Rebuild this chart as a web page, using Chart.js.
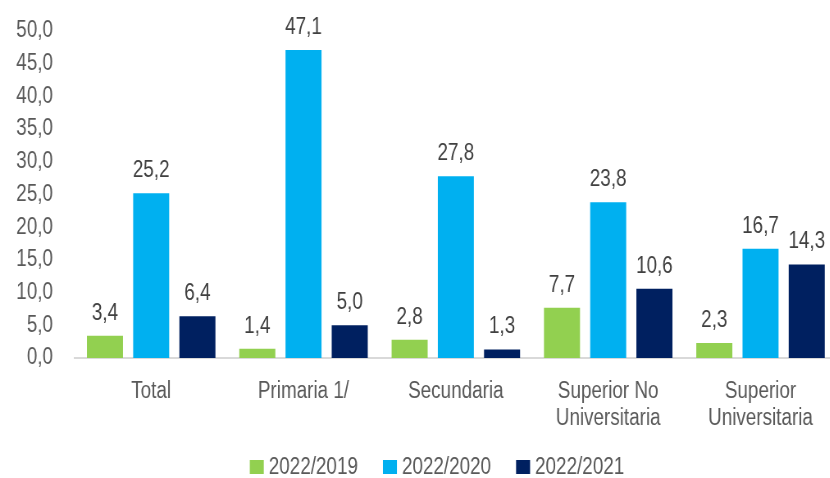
<!DOCTYPE html>
<html>
<head>
<meta charset="utf-8">
<script src="https://cdn.jsdelivr.net/npm/chart.js@4"></script>
<style>
html,body{margin:0;padding:0;background:#fff;overflow:hidden;width:830px;height:478px;}
#wrap{width:1024px;height:478px;position:relative;transform:scaleX(0.82);transform-origin:0 0;}
</style>
</head>
<body>
<div id="wrap"><canvas id="c" width="1024" height="478"></canvas></div>
<script>
const categories = [['Total'], ['Primaria 1/'], ['Secundaria'], ['Superior No','Universitaria'], ['Superior','Universitaria']];
const seriesNames = ['2022/2019', '2022/2020', '2022/2021'];
const v2019 = [3.4, 1.4, 2.8, 7.7, 2.3];
const v2020 = [25.2, 47.1, 27.8, 23.8, 16.7];
const v2021 = [6.4, 5.0, 1.3, 10.6, 14.3];
const colors = ['#92D050', '#00B0F0', '#002060'];
const yTicks = [0,5,10,15,20,25,30,35,40,45,50];

const SX = 0.82; // horizontal condensing of the whole figure
const FONT = '"Liberation Sans", Arial, sans-serif';
const FS = 23;
const PLOT_TOP = 31;
const fmt = v => v.toFixed(1).replace('.', ',');

const areaPlugin = {
  id: 'plotTop',
  afterLayout(chart) {
    const y = chart.scales.y;
    chart.chartArea.top = PLOT_TOP;
    chart.chartArea.height = chart.chartArea.bottom - PLOT_TOP;
    y.top = PLOT_TOP;
    y.height = y.bottom - PLOT_TOP;
    y.configure();
    y._labelItems = null;
  }
};

const labelPlugin = {
  id: 'barLabels',
  afterDatasetsDraw(chart) {
    const ctx = chart.ctx;
    ctx.save();
    ctx.font = FS + 'px ' + FONT;
    ctx.fillStyle = '#404040';
    ctx.textAlign = 'center';
    ctx.textBaseline = 'alphabetic';
    chart.data.datasets.forEach((ds, i) => {
      const meta = chart.getDatasetMeta(i);
      meta.data.forEach((bar, j) => {
        ctx.fillText(fmt(ds.data[j]), bar.x, bar.y - 16);
      });
    });
    ctx.restore();
  }
};

const legendPlugin = {
  id: 'customLegend',
  afterDraw(chart) {
    const ctx = chart.ctx;
    ctx.save();
    ctx.font = FS + 'px ' + FONT;
    ctx.textBaseline = 'middle';
    ctx.textAlign = 'left';
    const boxW = 14 / SX, boxH = 14, gap = 5 / SX, between = 25 / SX;
    const items = chart.data.datasets.map(ds => ({ text: ds.label, color: ds.backgroundColor, w: ctx.measureText(ds.label).width }));
    const total = items.reduce((a, it) => a + boxW + gap + it.w, 0) + between * (items.length - 1);
    let x = 437 / SX - total / 2;
    const cy = 467;
    items.forEach(it => {
      ctx.fillStyle = it.color;
      ctx.fillRect(x, cy - boxH / 2, boxW, boxH);
      ctx.fillStyle = '#595959';
      ctx.fillText(it.text, x + boxW + gap, cy + 1);
      x += boxW + gap + it.w + between;
    });
    ctx.restore();
  }
};

new Chart(document.getElementById('c'), {
  type: 'bar',
  data: {
    labels: categories,
    datasets: [
      { label: seriesNames[0], data: v2019, backgroundColor: colors[0] },
      { label: seriesNames[1], data: v2020, backgroundColor: colors[1] },
      { label: seriesNames[2], data: v2021, backgroundColor: colors[2] }
    ]
  },
  options: {
    responsive: false,
    animation: false,
    devicePixelRatio: 1,
    layout: { padding: { top: 23, right: 3 / SX, left: 0, bottom: 50 } },
    datasets: { bar: { categoryPercentage: 0.91, barPercentage: 0.78 } },
    plugins: {
      legend: { display: false },
      tooltip: { enabled: false }
    },
    scales: {
      x: {
        afterFit(s) { s.height = 70; },
        grid: { display: false, drawTicks: false },
        border: { display: true, color: '#D9D9D9', width: 2 },
        ticks: {
          color: '#595959', padding: 20, maxRotation: 0, autoSkip: false,
          font: { family: FONT, size: FS, lineHeight: 1.17 }
        }
      },
      y: {
        min: 0, max: 50,
        afterFit(s) { s.width = 75 / SX; },
        afterBuildTicks(s) { s.ticks = yTicks.map(v => ({ value: v })); },
        grid: { display: false, drawTicks: false },
        border: { display: false },
        ticks: {
          color: '#595959', padding: 22 / SX,
          font: { family: FONT, size: FS },
          callback: v => fmt(v)
        }
      }
    }
  },
  plugins: [areaPlugin, labelPlugin, legendPlugin]
});
</script>
</body>
</html>
